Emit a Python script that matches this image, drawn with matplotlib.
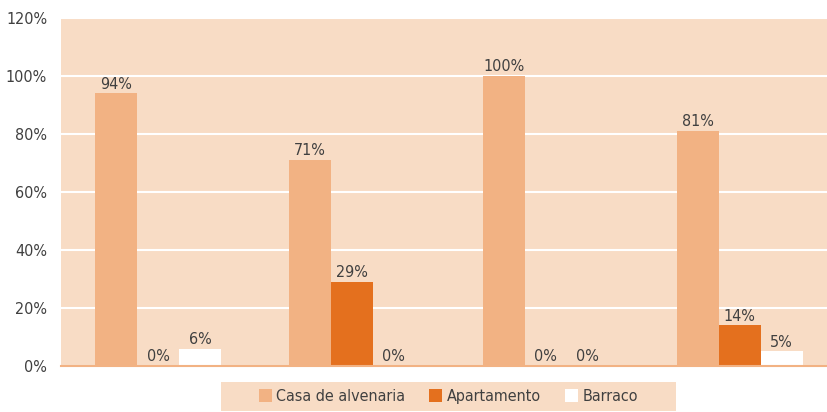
import numpy as np
import matplotlib.pyplot as plt
from matplotlib import font_manager
from matplotlib.patches import Patch

# Tipo de moradia por grupo (percentuais)
grupos = ['G1', 'G2', 'G3', 'G4']
casa_alvenaria = [94, 71, 100, 81]
apartamento = [0, 29, 0, 14]
barraco = [6, 0, 0, 5]

series = ['Casa de alvenaria', 'Apartamento', 'Barraco']
cores = ['#F2B283', '#E4701E', '#FFFFFF']
fundo = '#F8DCC5'
texto = '#404040'

# procura uma fonte condensada instalada
condensadas = [f for f in font_manager.fontManager.ttflist
               if 'condensed' in str(f.stretch).lower() or 'narrow' in f.name.lower()
               or 'condensed' in f.name.lower()]
fonte = condensadas[0].name if condensadas else 'DejaVu Sans'
esticar = condensadas[0].stretch if condensadas else 'normal'
plt.rcParams['font.family'] = [fonte, 'DejaVu Sans']
plt.rcParams['font.stretch'] = esticar
tam = 11.5

fig = plt.figure(figsize=(8.27, 4.12), dpi=100)
ax = fig.add_axes([0.0738, 0.1117, 0.9262, 0.8447])
ax.set_facecolor(fundo)

x = np.arange(len(grupos))
largura = 0.216
for k, (valores, cor) in enumerate(zip([casa_alvenaria, apartamento, barraco], cores)):
    pos = x + (k - 1) * largura
    ax.bar(pos, valores, width=largura, color=cor, zorder=3)
    for xi, v in zip(pos, valores):
        ax.text(xi, v + 0.6, f'{v}%', ha='center', va='bottom',
                fontsize=tam, color=texto, zorder=4)

ax.set_xlim(-0.5, 3.45)
ax.set_ylim(0, 120)
ax.set_yticks(np.arange(0, 121, 20))
ax.set_yticklabels([f'{t}%' for t in range(0, 121, 20)], fontsize=tam, color=texto)
ax.set_xticks([])
ax.tick_params(axis='y', length=0, pad=10)
ax.grid(axis='y', color='white', linewidth=1.5, zorder=1)
for lado in ['top', 'right', 'left']:
    ax.spines[lado].set_visible(False)
ax.spines['bottom'].set_color('#F2B283')
ax.spines['bottom'].set_linewidth(1.5)
ax.spines['bottom'].set_zorder(5)

# legenda em faixa na base
leg_ax = fig.add_axes([221 / 827, 1 - 411 / 412, 455 / 827, 29 / 412])
leg_ax.set_facecolor(fundo)
leg_ax.set_xticks([])
leg_ax.set_yticks([])
for s in leg_ax.spines.values():
    s.set_visible(False)
handles = [Patch(facecolor=c, edgecolor='none') for c in cores]
leg_ax.legend(handles, series, loc='center', ncol=3, frameon=False,
              fontsize=tam, labelcolor=texto, handlelength=0.8, handleheight=0.8,
              handletextpad=0.3, columnspacing=1.5)

fig.savefig('out.png', dpi=100)
